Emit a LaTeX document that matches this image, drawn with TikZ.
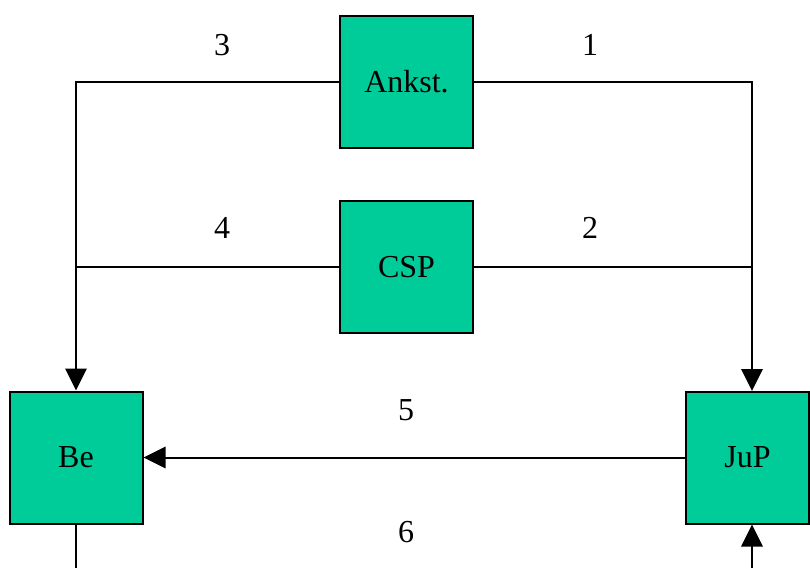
\documentclass[tikz,border=0pt]{standalone}
\usepackage{fontspec}
\setmainfont{Liberation Serif}
\usetikzlibrary{arrows.meta}
\definecolor{boxgreen}{HTML}{00CC99}
\tikzset{
  unit/.style={rectangle, draw=black, line width=1.5pt, fill=boxgreen,
    inner sep=0pt, minimum width=99.75pt, minimum height=99pt,
    font=\fontsize{24}{28}\selectfont},
  conn/.style={line width=1.5pt, draw=black},
  arr/.style={conn, -{Triangle[length=16.5pt, width=16pt]}},
  num/.style={font=\fontsize{24}{28}\selectfont, inner sep=0pt}
}
\begin{document}
\begin{tikzpicture}[x=0.75pt, y=-0.75pt]
  \useasboundingbox (0,0) rectangle (810,568);
  % boxes
  \node[unit] (Ankst) at (406.5,82) {Ankst.};
  \node[unit] (CSP) at (406.5,267) {CSP};
  \node[unit] (Be) at (76,457.5) {Be\hspace{6pt}};
  \node[unit, minimum width=92.25pt] (JuP) at (747.5,457.5) {JuP};
  % helper points on the right column and the lower edge
  \coordinate (jin) at (752,391);
  \coordinate (bl) at (77,568);
  \coordinate (jb) at (752,568);
  % connectors
  \draw[arr] (Ankst.west) -| (Be.north);
  \draw[arr] (Ankst.east) -| (jin);
  \draw[conn] (CSP.west) -- (CSP.west -| Be.north);
  \draw[conn] (CSP.east) -- (CSP.east -| jin);
  \draw[arr] (JuP.west) -- (Be.east);
  \draw[conn] (Be.south) -- (Be.south |- bl);
  \draw[arr] (jb) -- (jin |- JuP.south);
  % labels
  \node[num] (n3) at (222,45) {3};
  \node[num] (n1) at (590,45) {1};
  \node[num] (n4) at (222,228) {4};
  \node[num] (n2) at (590,228) {2};
  \node[num] (n5) at (406,410) {5};
  \node[num] (n6) at (406,532) {6};
\end{tikzpicture}
\end{document}
